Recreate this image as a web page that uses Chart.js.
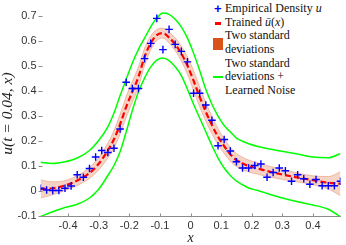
<!DOCTYPE html>
<html>
<head>
<meta charset="utf-8">
<script src="https://cdn.jsdelivr.net/npm/chart.js@4"></script>
<style>
  body { margin: 0; background: #fff; }
  #caja { position: relative; width: 346px; height: 245px; }
  #leyenda { position: absolute; left: 211px; top: 0; width: 135px; height: 98px; background: #fff;
    font-family: "Liberation Serif", serif; font-size: 12px; color: #111; }
  #leyenda .txt { position: absolute; left: 14px; line-height: 13.5px; white-space: nowrap; }
  #leyenda .mk { position: absolute; }
</style>
</head>
<body>
<div id="caja">
  <canvas id="grafico"></canvas>
  <div id="leyenda">
    <span class="mk" style="left:3px;top:1px;color:#0000ff;font:bold 13px 'Liberation Sans',sans-serif;">+</span>
    <div class="txt" style="top:2px;">Empirical Density <i>u</i></div>
    <span class="mk" style="left:4px;top:21.5px;width:6px;height:3px;background:#ff0000;"></span>
    <div class="txt" style="top:16px;">Trained <i>ū</i>(<i>x</i>)</div>
    <span class="mk" style="left:2px;top:38px;width:10px;height:12px;background:#d95319;"></span>
    <div class="txt" style="top:29px;">Two standard<br>deviations</div>
    <span class="mk" style="left:2px;top:76px;width:10px;height:2px;background:#00ff00;"></span>
    <div class="txt" style="top:56.5px;">Two standard<br>deviations +<br>Learned Noise</div>
  </div>
</div>
<script>
// Empirical density (+)
const xPuntos = [-0.49, -0.47, -0.45, -0.43, -0.41, -0.39, -0.37, -0.35, -0.33, -0.31,
  -0.29, -0.27, -0.25, -0.23, -0.21, -0.19, -0.17, -0.15, -0.13, -0.11,
  -0.09, -0.07, -0.05, -0.03, -0.01, 0.01, 0.03, 0.05, 0.07, 0.09,
  0.11, 0.13, 0.15, 0.17, 0.19, 0.21, 0.23, 0.25, 0.27, 0.29,
  0.31, 0.33, 0.35, 0.37, 0.39, 0.41, 0.43, 0.45, 0.47, 0.49];
const yPuntos = [0.009, 0.002, 0.000, 0.000, 0.009, 0.018, 0.063, 0.053, 0.088, 0.134,
  0.160, 0.152, 0.169, 0.246, 0.433, 0.408, 0.408, 0.528, 0.589, 0.689,
  0.564, 0.645, 0.585, 0.557, 0.515, 0.389, 0.389, 0.342, 0.281, 0.179,
  0.204, 0.158, 0.115, 0.090, 0.090, 0.100, 0.106, 0.053, 0.072, 0.090,
  0.079, 0.037, 0.063, 0.047, 0.025, 0.044, 0.019, 0.019, 0.019, 0.037];

// Curves
const xCurva = [-0.49, -0.45, -0.41, -0.37, -0.33, -0.30, -0.27, -0.25, -0.23, -0.21,
  -0.19, -0.17, -0.15, -0.13, -0.11, -0.09, -0.07, -0.05, -0.03, -0.01,
  0.01, 0.03, 0.05, 0.07, 0.09, 0.11, 0.13, 0.15, 0.17, 0.19,
  0.22, 0.25, 0.30, 0.35, 0.40, 0.45, 0.49];
const media = [0.006, 0.009, 0.020, 0.040, 0.070, 0.107, 0.160, 0.205, 0.265, 0.335,
  0.395, 0.455, 0.535, 0.590, 0.622, 0.630, 0.612, 0.585, 0.548, 0.500,
  0.440, 0.375, 0.315, 0.262, 0.215, 0.178, 0.145, 0.122, 0.108, 0.098,
  0.088, 0.078, 0.064, 0.052, 0.041, 0.031, 0.027];
const bandaSup = [0.042, 0.035, 0.040, 0.060, 0.092, 0.132, 0.190, 0.240, 0.305, 0.377,
  0.437, 0.495, 0.570, 0.618, 0.644, 0.650, 0.634, 0.611, 0.578, 0.535,
  0.480, 0.415, 0.353, 0.297, 0.247, 0.208, 0.173, 0.148, 0.133, 0.122,
  0.111, 0.100, 0.084, 0.070, 0.059, 0.056, 0.075];
const bandaInf = [-0.030, -0.017, 0.000, 0.020, 0.048, 0.082, 0.130, 0.170, 0.225, 0.293,
  0.353, 0.415, 0.500, 0.562, 0.600, 0.610, 0.590, 0.559, 0.518, 0.465,
  0.400, 0.335, 0.277, 0.227, 0.183, 0.148, 0.117, 0.096, 0.083, 0.074,
  0.065, 0.056, 0.044, 0.034, 0.023, 0.006, -0.021];
const ruidoSup = [0.113, 0.108, 0.115, 0.130, 0.160, 0.200, 0.255, 0.310, 0.380, 0.445,
  0.510, 0.565, 0.610, 0.655, 0.690, 0.710, 0.705, 0.685, 0.655, 0.610,
  0.550, 0.480, 0.405, 0.345, 0.298, 0.260, 0.235, 0.210, 0.197, 0.187,
  0.176, 0.168, 0.157, 0.146, 0.134, 0.131, 0.148];
const ruidoInf = [-0.104, -0.085, -0.068, -0.055, -0.030, 0.005, 0.060, 0.100, 0.155, 0.235,
  0.320, 0.395, 0.450, 0.495, 0.522, 0.530, 0.520, 0.495, 0.460, 0.405,
  0.345, 0.290, 0.235, 0.180, 0.130, 0.090, 0.060, 0.038, 0.023, 0.010,
  0.000, -0.012, -0.030, -0.045, -0.058, -0.075, -0.105];

const ticksX = [-0.4, -0.3, -0.2, -0.1, 0, 0.1, 0.2, 0.3, 0.4];
const ticksY = [-0.1, 0, 0.1, 0.2, 0.3, 0.4, 0.5, 0.6, 0.7];

const pares = (xs, ys) => xs.map((x, i) => ({ x: x, y: ys[i] }));

const curva = {
  type: "line",
  pointRadius: 0,
  cubicInterpolationMode: "monotone",
  fill: false
};

// inward tick marks, MATLAB style
const marcas = {
  id: "marcas",
  afterDraw(chart) {
    const c = chart.ctx, a = chart.chartArea;
    const sx = chart.scales.x, sy = chart.scales.y;
    c.save();
    c.strokeStyle = "#8c8c8c";
    c.lineWidth = 1;
    ticksX.forEach(v => {
      const px = Math.round(sx.getPixelForValue(v)) + 0.5;
      c.beginPath(); c.moveTo(px, a.bottom); c.lineTo(px, a.bottom - 3); c.stroke();
    });
    ticksY.forEach(v => {
      const py = Math.round(sy.getPixelForValue(v)) + 0.5;
      c.beginPath(); c.moveTo(a.left - 2, py); c.lineTo(a.left + 2, py); c.stroke();
    });
    c.restore();
  }
};

new Chart(document.getElementById("grafico"), {
  type: "line",
  data: {
    datasets: [
      { ...curva, data: pares(xCurva, bandaSup), fill: "+1", order: 5,
        borderColor: "rgba(217,83,25,0.3)", borderWidth: 1, backgroundColor: "rgba(217,83,25,0.25)" },
      { ...curva, data: pares(xCurva, bandaInf), order: 5,
        borderColor: "rgba(217,83,25,0.3)", borderWidth: 1 },
      { ...curva, data: pares(xCurva, ruidoSup), order: 3, borderColor: "#00ff00", borderWidth: 1.5 },
      { ...curva, data: pares(xCurva, ruidoInf), order: 3, borderColor: "#00ff00", borderWidth: 1.5 },
      { ...curva, data: pares(xCurva, media), order: 2, borderColor: "#ff0000", borderWidth: 2.2,
        borderDash: [6, 3] },
      { type: "line", data: pares(xPuntos, yPuntos), order: 1, showLine: false,
        pointStyle: "cross", pointRadius: 3.8, pointBorderWidth: 1.4,
        borderColor: "#0000ff", backgroundColor: "#0000ff" }
    ]
  },
  options: {
    responsive: true,
    maintainAspectRatio: false,
    animation: false,
    events: [],
    layout: { padding: { left: 0, right: 5.5, top: 0, bottom: 0 } },
    plugins: { legend: { display: false }, tooltip: { enabled: false } },
    scales: {
      x: {
        type: "linear", min: -0.49, max: 0.49,
        afterBuildTicks: s => { s.ticks = ticksX.map(v => ({ value: v })); },
        afterFit: s => { s.height = 28.5; },
        grid: { display: false, drawTicks: false },
        border: { display: true, color: "#8c8c8c", width: 1 },
        ticks: { color: "#333", padding: 3, maxRotation: 0,
          font: { family: "Liberation Sans", size: 11 }, callback: v => String(v) },
        title: { display: true, text: "x", color: "#222", padding: 0,
          font: { family: "Liberation Serif", style: "italic", size: 14, lineHeight: 1 } }
      },
      y: {
        type: "linear", min: -0.104, max: 0.72,
        afterBuildTicks: s => { s.ticks = ticksY.map(v => ({ value: v })); },
        afterFit: s => { s.width = 40.5; },
        grid: { display: false, drawTicks: false },
        border: { display: false },
        ticks: { color: "#333", padding: 4,
          font: { family: "Liberation Sans", size: 11 }, callback: v => String(v) },
        title: { display: true, text: "u(t = 0.04, x)", color: "#222", padding: 0,
          font: { family: "Liberation Serif", style: "italic", size: 15.5, lineHeight: 1 } }
      }
    }
  },
  plugins: [marcas]
});
</script>
</body>
</html>
